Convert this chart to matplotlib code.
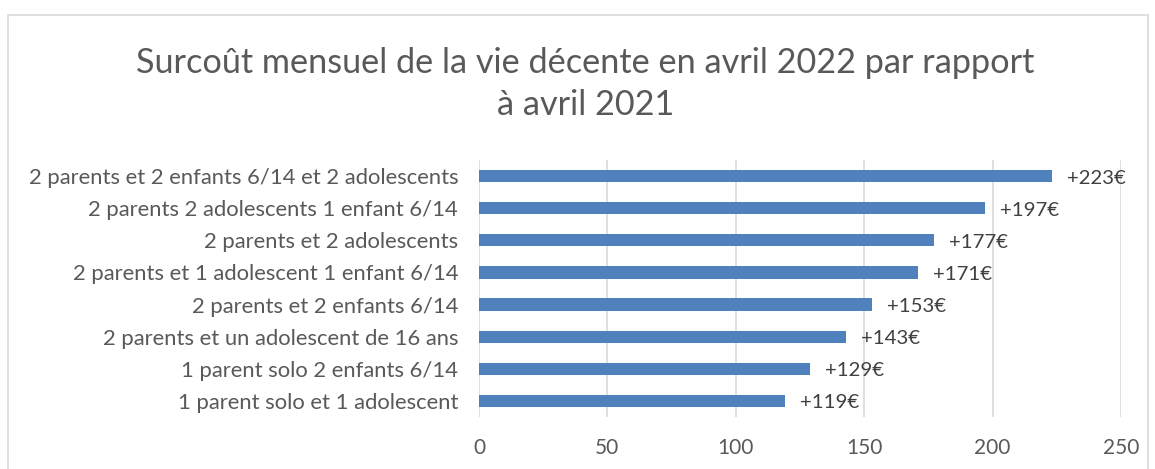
import matplotlib
matplotlib.use("Agg")
import matplotlib.pyplot as plt
from matplotlib.patches import Rectangle

categories = [
    "2 parents et 2 enfants 6/14 et 2 adolescents",
    "2 parents 2 adolescents 1 enfant 6/14",
    "2 parents et 2 adolescents",
    "2 parents et 1 adolescent 1 enfant 6/14",
    "2 parents et 2 enfants 6/14",
    "2 parents et un adolescent de 16 ans",
    "1 parent solo 2 enfants 6/14",
    "1 parent solo et 1 adolescent",
]
values = [223, 197, 177, 171, 153, 143, 129, 119]
value_labels = ["+223€", "+197€", "+177€", "+171€", "+153€", "+143€", "+129€", "+119€"]
xticks = [0, 50, 100, 150, 200, 250]
title = "Surcoût mensuel de la vie décente en avril 2022 par rapport\nà avril 2021"

plt.rcParams['font.family'] = ['Lato', 'DejaVu Sans']

fig = plt.figure(figsize=(11.55, 4.69), dpi=100)
ax = fig.add_axes([479/1155, 1-417/469, (1121-479)/1155, (417-160)/469])

ypos = list(range(len(categories)))
ax.barh(ypos, values, height=0.38, color="#4F81BD", zorder=3)
ax.set_ylim(len(categories)-0.5, -0.5)
ax.set_yticks(ypos)
ax.set_yticklabels(categories, fontsize=15.8, color="#595959")
ax.set_xlim(0, 250)
ax.set_xticks(xticks)
ax.set_xticklabels([str(t) for t in xticks], fontsize=15, color="#595959")
ax.tick_params(axis='both', length=0)
ax.tick_params(axis='x', pad=15)
ax.tick_params(axis='y', pad=15)
for s in ax.spines.values():
    s.set_visible(False)
ax.grid(axis='x', color="#D9D9D9", linewidth=1.2, zorder=0)

for y, v, lab in zip(ypos, values, value_labels):
    ax.annotate(lab, xy=(v, y), xytext=(15, -2), textcoords='offset pixels',
                ha='left', va='center', fontsize=14.7, color="#404040")

fig.text(0.507, 1-84/469, title, ha='center', va='center', fontsize=24.7, color="#595959",
         linespacing=1.42)

fig.patches.append(Rectangle((8/1155, -0.05), (1148-8)/1155, 1-15/469+0.05,
                             transform=fig.transFigure, fill=False,
                             edgecolor="#D9D9D9", linewidth=1.2))

fig.savefig("out.png", dpi=100, facecolor="white")
